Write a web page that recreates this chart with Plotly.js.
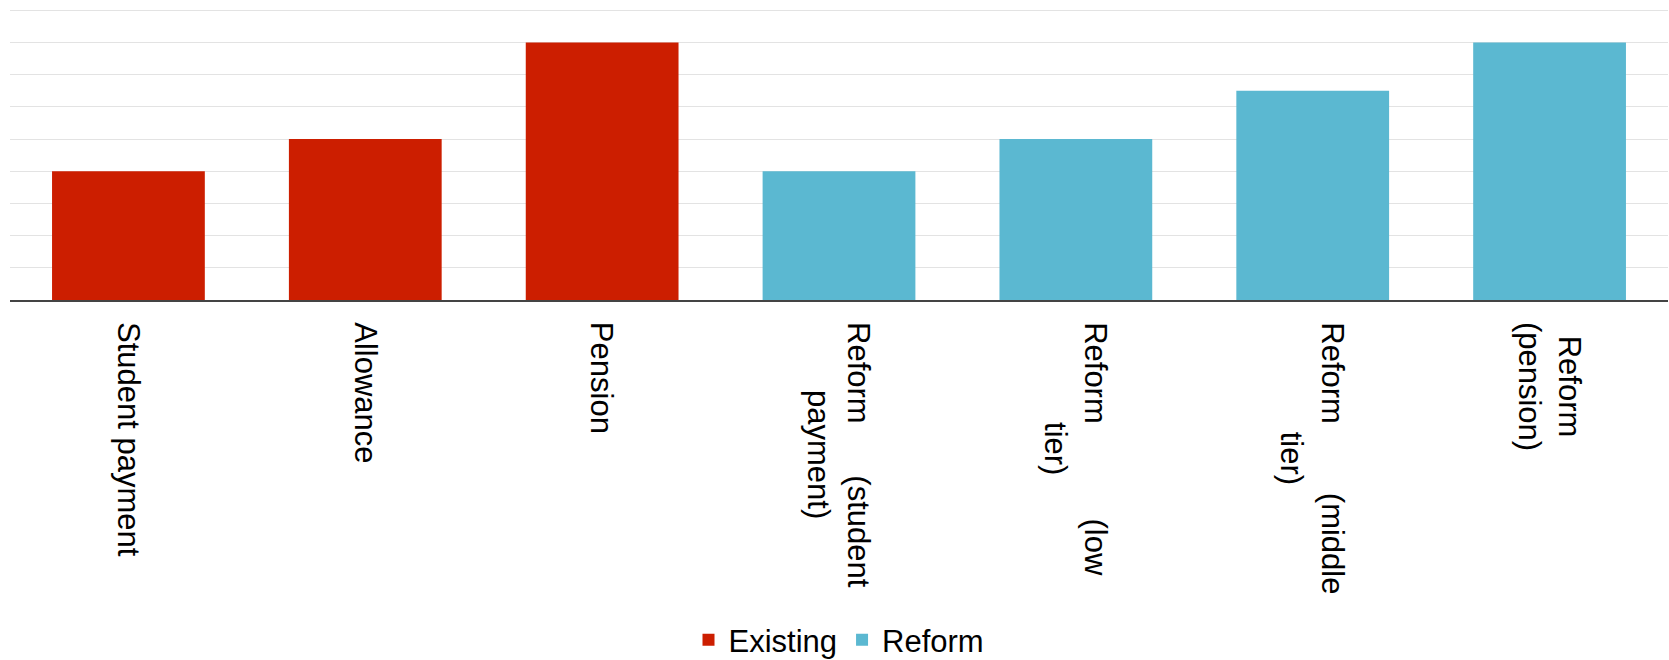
<!DOCTYPE html>
<html>
<head>
<meta charset="utf-8">
<script src="https://cdn.plot.ly/plotly-3.0.1.min.js"></script>
<style>
  html, body { margin: 0; padding: 0; background: #ffffff; }
  #chart { width: 1669px; height: 660px; }
</style>
</head>
<body>
<div id="chart"></div>
<script>
// Benefit amounts: existing payments vs. the proposed reform tiers
const categories = [
  'Student payment',
  'Allowance',
  'Pension',
  'Reform (student payment)',
  'Reform (low tier)',
  'Reform (middle tier)',
  'Reform (pension)'
];

const existingCategories = ['Student payment', 'Allowance', 'Pension'];
const existingValues = [4, 5, 8];

const reformCategories = [
  'Reform (student payment)',
  'Reform (low tier)',
  'Reform (middle tier)',
  'Reform (pension)'
];
const reformValues = [4, 5, 6.5, 8];

// Wide word gaps keep the first line of each wrapped label justified
const gap = n => '\u00A0'.repeat(n);
const tickLabels = [
  'Student payment',
  'Allowance',
  'Pension',
  'Reform' + gap(6) + '(student<br>payment)',
  'Reform' + gap(11) + '(low<br>tier)',
  'Reform' + gap(8) + '(middle<br>tier)',
  'Reform<br>(pension)'
];

const FONT = 'Liberation Sans, Arial, Helvetica, sans-serif';
const RED = '#cc1e00';
const BLUE = '#5bb8d1';

const traces = [
  {
    type: 'bar',
    name: 'Existing',
    x: existingCategories,
    y: existingValues,
    marker: { color: RED },
    hoverinfo: 'x+y'
  },
  {
    type: 'bar',
    name: 'Reform',
    x: reformCategories,
    y: reformValues,
    marker: { color: BLUE },
    hoverinfo: 'x+y'
  }
];

// Rotated category labels, centred line by line under each bar
const labelAnnotations = categories.map((cat, i) => ({
  xref: 'x',
  yref: 'paper',
  x: cat,
  y: 0,
  xanchor: 'center',
  yanchor: 'top',
  yshift: -20,
  text: tickLabels[i],
  textangle: 90,
  align: 'center',
  showarrow: false,
  font: { family: FONT, size: 31, color: '#000000' }
}));

const layout = {
  width: 1669,
  height: 660,
  margin: { l: 10, r: 1, t: 9, b: 360, pad: 0 },
  paper_bgcolor: '#ffffff',
  plot_bgcolor: '#ffffff',
  barmode: 'overlay',
  bargap: 0.355,
  font: { family: FONT, size: 31, color: '#000000' },
  xaxis: {
    type: 'category',
    categoryorder: 'array',
    categoryarray: categories,
    showticklabels: false,
    ticks: '',
    showgrid: false,
    showline: true,
    linecolor: '#444444',
    linewidth: 1.5,
    zeroline: false
  },
  yaxis: {
    range: [0, 9.04],
    tick0: 0,
    dtick: 1,
    showticklabels: false,
    ticks: '',
    showgrid: true,
    gridcolor: '#e3e3e3',
    gridwidth: 1,
    zeroline: false,
    showline: false
  },
  showlegend: true,
  legend: {
    orientation: 'h',
    xref: 'paper',
    yref: 'container',
    x: 0.5,
    xanchor: 'center',
    y: 0.071,
    yanchor: 'top',
    font: { family: FONT, size: 31, color: '#000000' },
    bgcolor: 'rgba(0,0,0,0)',
    itemwidth: 30
  },
  annotations: labelAnnotations
};

Plotly.newPlot('chart', traces, layout, { staticPlot: true, displayModeBar: false });
</script>
</body>
</html>
